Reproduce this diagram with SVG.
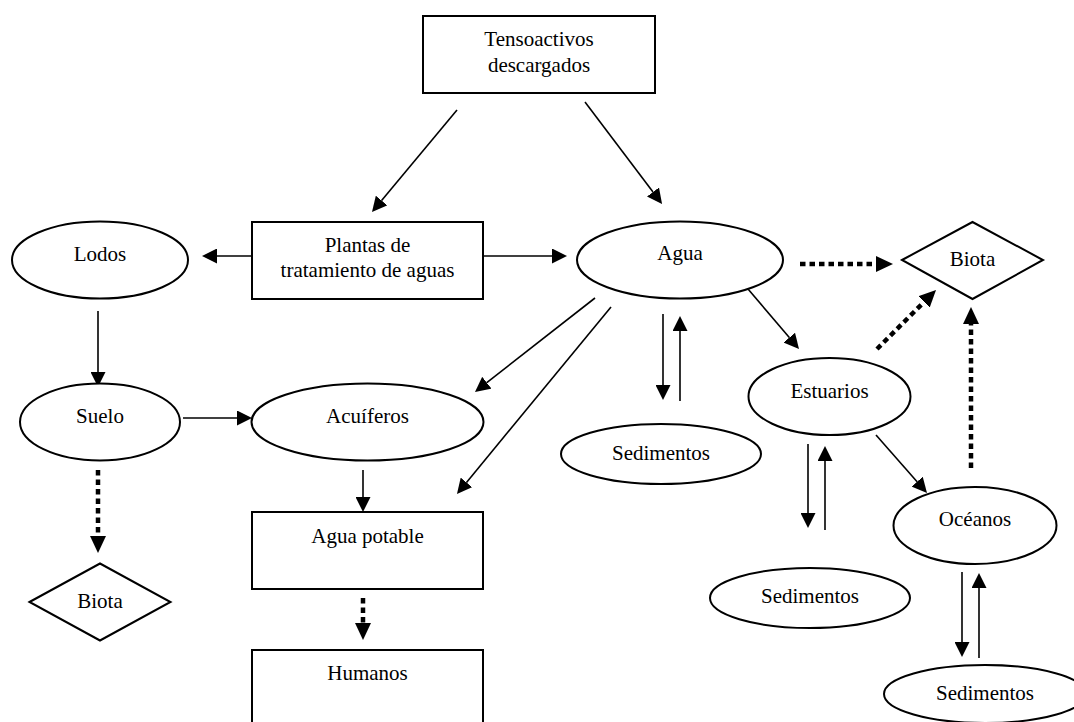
<svg xmlns="http://www.w3.org/2000/svg" width="1074" height="722" viewBox="0 0 1074 722">
<defs>
<style>
.n{fill:#fff;stroke:#000;stroke-width:2}
.t{font-family:'Liberation Serif','Times New Roman',Times,'DejaVu Serif',serif;font-size:21px;fill:#000;text-anchor:middle}
.c{stroke:#000;stroke-width:1.6;fill:none}
.d{stroke:#000;stroke-width:4.5;fill:none;stroke-dasharray:5.5 4}
</style>
<marker id="ah" markerUnits="userSpaceOnUse" markerWidth="15" markerHeight="15" viewBox="0 0 15 15" refX="0" refY="7.5" orient="auto">
<path d="M0,0 L15,7.5 L0,15 Z" fill="#000"/>
</marker>
<marker id="dh" markerUnits="userSpaceOnUse" markerWidth="17" markerHeight="16" viewBox="0 0 17 16" refX="0" refY="8" orient="auto">
<path d="M0,0 L17,8 L0,16 Z" fill="#000"/>
</marker>
</defs>
<rect width="1074" height="722" fill="#fff"/>
<g id="connectors">
<line class="c" x1="457" y1="110" x2="381.6" y2="200.5" marker-end="url(#ah)"/>
<line class="c" x1="585" y1="102" x2="653" y2="192" marker-end="url(#ah)"/>
<line class="c" x1="252" y1="256" x2="217" y2="256" marker-end="url(#ah)"/>
<line class="c" x1="483" y1="256" x2="552" y2="256" marker-end="url(#ah)"/>
<line class="c" x1="98" y1="311" x2="98" y2="372" marker-end="url(#ah)"/>
<line class="c" x1="183" y1="418" x2="237" y2="418" marker-end="url(#ah)"/>
<line class="c" x1="595" y1="298" x2="486.8" y2="382.7" marker-end="url(#ah)"/>
<line class="c" x1="611" y1="307" x2="466.5" y2="482.4" marker-end="url(#ah)"/>
<line class="c" x1="363" y1="470" x2="363" y2="497" marker-end="url(#ah)"/>
<line class="c" x1="663" y1="314" x2="663" y2="385" marker-end="url(#ah)"/>
<line class="c" x1="680" y1="401" x2="680" y2="331" marker-end="url(#ah)"/>
<line class="c" x1="748" y1="289" x2="789.3" y2="337.6" marker-end="url(#ah)"/>
<line class="c" x1="808" y1="444" x2="808" y2="513" marker-end="url(#ah)"/>
<line class="c" x1="825" y1="530" x2="825" y2="461" marker-end="url(#ah)"/>
<line class="c" x1="876" y1="435" x2="917.1" y2="481.7" marker-end="url(#ah)"/>
<line class="c" x1="962" y1="572" x2="962" y2="642" marker-end="url(#ah)"/>
<line class="c" x1="979" y1="658" x2="979" y2="588" marker-end="url(#ah)"/>
<line class="d" x1="800" y1="264" x2="876" y2="264" marker-end="url(#dh)"/>
<line class="d" x1="877" y1="349" x2="924" y2="302" marker-end="url(#dh)"/>
<line class="d" x1="971" y1="468" x2="971" y2="324" marker-end="url(#dh)"/>
<line class="d" x1="98" y1="470" x2="98" y2="536" marker-end="url(#dh)"/>
<line class="d" x1="363" y1="598" x2="363" y2="623" marker-end="url(#dh)"/>
</g>
<g id="tensoactivos">
<rect class="n" x="423" y="16" width="232" height="77"/>
<text class="t" x="539" y="46" font-family="Liberation Serif, serif">Tensoactivos</text>
<text class="t" x="539" y="72" font-family="Liberation Serif, serif">descargados</text>
</g>
<g id="plantas">
<rect class="n" x="252" y="222" width="231" height="77"/>
<text class="t" x="367.5" y="252">Plantas de</text>
<text class="t" x="367.5" y="277">tratamiento de aguas</text>
</g>
<g id="lodos">
<ellipse class="n" cx="100" cy="260" rx="88" ry="38.5"/>
<text class="t" x="100" y="261">Lodos</text>
</g>
<g id="agua">
<ellipse class="n" cx="680" cy="260" rx="103" ry="38.5"/>
<text class="t" x="680" y="260">Agua</text>
</g>
<g id="biota-agua">
<polygon class="n" points="902,260 972.5,222 1043,260 972.5,299"/>
<text class="t" x="972.5" y="266">Biota</text>
</g>
<g id="suelo">
<ellipse class="n" cx="100" cy="422" rx="80" ry="38.5"/>
<text class="t" x="100" y="423">Suelo</text>
</g>
<g id="acuiferos">
<ellipse class="n" cx="367.5" cy="422" rx="116" ry="38.5"/>
<text class="t" x="367.5" y="423">Acuíferos</text>
</g>
<g id="sedimentos-agua">
<ellipse class="n" cx="661" cy="454" rx="100" ry="30"/>
<text class="t" x="661" y="460">Sedimentos</text>
</g>
<g id="estuarios">
<ellipse class="n" cx="829.5" cy="396.5" rx="81" ry="38.5"/>
<text class="t" x="829.5" y="398">Estuarios</text>
</g>
<g id="oceanos">
<ellipse class="n" cx="975" cy="525.5" rx="81.5" ry="38.5"/>
<text class="t" x="975" y="526">Océanos</text>
</g>
<g id="sedimentos-estuarios">
<ellipse class="n" cx="810" cy="598" rx="100" ry="30"/>
<text class="t" x="810" y="603">Sedimentos</text>
</g>
<g id="sedimentos-oceanos">
<ellipse class="n" cx="985" cy="694" rx="101" ry="29"/>
<text class="t" x="985" y="700">Sedimentos</text>
</g>
<g id="agua-potable">
<rect class="n" x="252" y="512" width="231" height="77"/>
<text class="t" x="367.5" y="543">Agua potable</text>
</g>
<g id="humanos">
<rect class="n" x="252" y="650" width="231" height="80"/>
<text class="t" x="367.5" y="680">Humanos</text>
</g>
<g id="biota-suelo">
<polygon class="n" points="29.5,602 100,563.5 170.5,602 100,640.5"/>
<text class="t" x="100" y="608">Biota</text>
</g>
</svg>
